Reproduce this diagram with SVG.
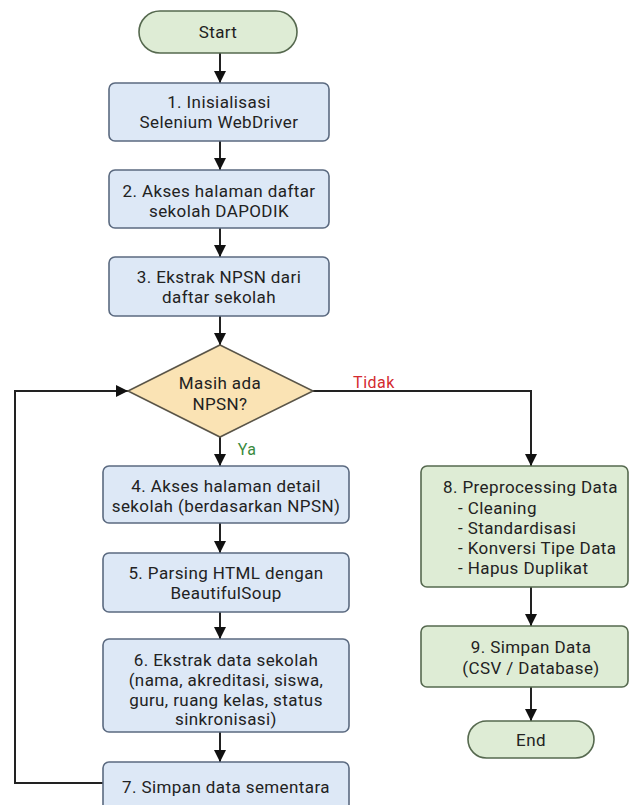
<svg xmlns="http://www.w3.org/2000/svg" width="629" height="805" viewBox="0 0 629 805">
<defs>
<style>
.t{font-family:Roboto,"Liberation Sans",sans-serif;font-size:17px;letter-spacing:0.4px;fill:#222;text-anchor:middle}
.tl{font-family:Roboto,"Liberation Sans",sans-serif;font-size:17px;letter-spacing:0.4px;fill:#222}
.lb{font-family:Roboto,"Liberation Sans",sans-serif;font-size:16px;letter-spacing:0.5px;text-anchor:middle}
.blue{fill:#dde8f6;stroke:#5b6a80;stroke-width:1.6}
.green{fill:#deecd5;stroke:#56694f;stroke-width:1.6}
.dia{fill:#fae3b4;stroke:#5a5548;stroke-width:1.6}
.c{fill:none;stroke:#222;stroke-width:2}
</style>
<marker id="ah" markerWidth="12" markerHeight="12" refX="10" refY="5" orient="auto" markerUnits="userSpaceOnUse" viewBox="0 0 10 10">
<path d="M0,0 L10,5 L0,10 z" fill="#111"/>
</marker>
</defs>
<rect width="629" height="805" fill="#fff"/>
<g id="connectors">
<line class="c" x1="220" y1="53" x2="220" y2="83" marker-end="url(#ah)"/>
<line class="c" x1="220" y1="141" x2="220" y2="170" marker-end="url(#ah)"/>
<line class="c" x1="220" y1="228" x2="220" y2="257" marker-end="url(#ah)"/>
<line class="c" x1="220" y1="316" x2="220" y2="345" marker-end="url(#ah)"/>
<line class="c" x1="220" y1="437" x2="220" y2="466" marker-end="url(#ah)"/>
<line class="c" x1="220" y1="523" x2="220" y2="553" marker-end="url(#ah)"/>
<line class="c" x1="220" y1="612" x2="220" y2="639" marker-end="url(#ah)"/>
<line class="c" x1="220" y1="732" x2="220" y2="762" marker-end="url(#ah)"/>
<polyline class="c" points="313,391 531,391 531,466" marker-end="url(#ah)"/>
<polyline class="c" points="103,783 15,783 15,391 128,391" marker-end="url(#ah)"/>
<line class="c" x1="531" y1="587" x2="531" y2="626" marker-end="url(#ah)"/>
<line class="c" x1="531" y1="687" x2="531" y2="721" marker-end="url(#ah)"/>
<text class="lb" x="374" y="388" fill="#d42a2f">Tidak</text>
<text class="lb" x="247" y="455" fill="#3a8a3e">Ya</text>
</g>
<g id="start">
<rect class="green" x="139" y="11" width="158" height="42" rx="21"/>
<text class="t" x="218" y="38">Start</text>
</g>
<g id="n1">
<rect class="blue" x="109" y="83" width="220" height="58" rx="6"/>
<text class="t" x="219" y="108">1. Inisialisasi</text>
<text class="t" x="219" y="128">Selenium WebDriver</text>
</g>
<g id="n2">
<rect class="blue" x="109" y="170" width="220" height="58" rx="6"/>
<text class="t" x="219" y="197">2. Akses halaman daftar</text>
<text class="t" x="219" y="217">sekolah DAPODIK</text>
</g>
<g id="n3">
<rect class="blue" x="109" y="257" width="220" height="59" rx="6"/>
<text class="t" x="219" y="283">3. Ekstrak NPSN dari</text>
<text class="t" x="219" y="303">daftar sekolah</text>
</g>
<g id="decision">
<polygon class="dia" points="220,345 313,391 220,437 128,391"/>
<text class="t" x="220" y="389">Masih ada</text>
<text class="t" x="220" y="410">NPSN?</text>
</g>
<g id="n4">
<rect class="blue" x="103" y="466" width="246" height="57" rx="6"/>
<text class="t" x="226" y="492">4. Akses halaman detail</text>
<text class="t" x="226" y="512">sekolah (berdasarkan NPSN)</text>
</g>
<g id="n5">
<rect class="blue" x="103" y="553" width="246" height="59" rx="6"/>
<text class="t" x="226" y="579">5. Parsing HTML dengan</text>
<text class="t" x="226" y="599">BeautifulSoup</text>
</g>
<g id="n6">
<rect class="blue" x="103" y="639" width="246" height="93" rx="6"/>
<text class="t" x="226" y="666">6. Ekstrak data sekolah</text>
<text class="t" x="226" y="686">(nama, akreditasi, siswa,</text>
<text class="t" x="226" y="706">guru, ruang kelas, status</text>
<text class="t" x="226" y="725">sinkronisasi)</text>
</g>
<g id="n7">
<rect class="blue" x="103" y="762" width="246" height="52" rx="6"/>
<text class="t" x="226" y="793">7. Simpan data sementara</text>
</g>
<g id="n8">
<rect class="green" x="421" y="466" width="207" height="121" rx="6"/>
<text class="tl" x="443" y="493">8. Preprocessing Data</text>
<text class="tl" x="458" y="514">- Cleaning</text>
<text class="tl" x="458" y="534">- Standardisasi</text>
<text class="tl" x="458" y="554">- Konversi Tipe Data</text>
<text class="tl" x="458" y="574">- Hapus Duplikat</text>
</g>
<g id="n9">
<rect class="green" x="421" y="626" width="207" height="61" rx="6"/>
<text class="t" x="531" y="653">9. Simpan Data</text>
<text class="t" x="531" y="674">(CSV / Database)</text>
</g>
<g id="end">
<rect class="green" x="468" y="721" width="126" height="37" rx="18.5"/>
<text class="t" x="531" y="746">End</text>
</g>
</svg>
